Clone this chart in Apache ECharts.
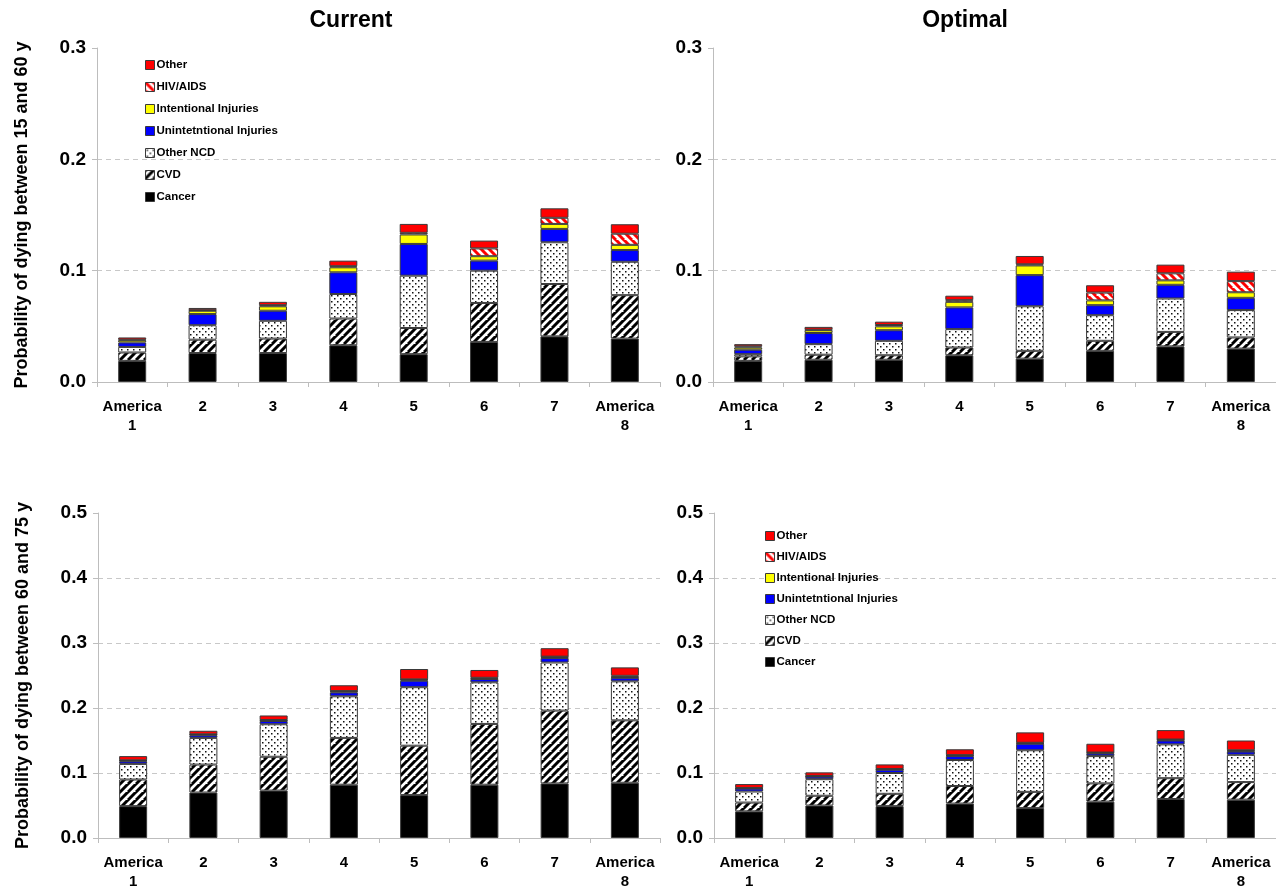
<!DOCTYPE html>
<html>
<head>
<meta charset="utf-8">
<script src="https://cdn.jsdelivr.net/npm/echarts@6/dist/echarts.min.js"></script>
<style>
  html, body { margin: 0; padding: 0; background: #fff; }
  #chart { width: 1276px; height: 891px; }
</style>
</head>
<body>
<div id="chart"></div>
<script>
// categories and causes
var categories = ['America\n1', '2', '3', '4', '5', '6', '7', 'America\n8'];
var causes = ['Cancer', 'CVD', 'Other NCD', 'Unintetntional Injuries', 'Intentional Injuries', 'HIV/AIDS', 'Other'];

// Current, dying between 15 and 60
var cur15Cancer = [0.019, 0.026, 0.026, 0.033, 0.025, 0.036, 0.041, 0.039];
var cur15Cvd    = [0.0075, 0.012, 0.013, 0.024, 0.0235, 0.035, 0.047, 0.039];
var cur15Ncd    = [0.005, 0.013, 0.016, 0.022, 0.047, 0.029, 0.0375, 0.030];
var cur15Unint  = [0.004, 0.010, 0.009, 0.0195, 0.0285, 0.009, 0.012, 0.0105];
var cur15Int    = [0.002, 0.003, 0.004, 0.0045, 0.0085, 0.004, 0.0045, 0.0047];
var cur15Hiv    = [0.0005, 0.0005, 0.001, 0.001, 0.0015, 0.007, 0.0055, 0.010];
var cur15Other  = [0.002, 0.002, 0.003, 0.005, 0.008, 0.007, 0.0085, 0.0085];

// Optimal, dying between 15 and 60
var opt15Cancer = [0.019, 0.020, 0.020, 0.024, 0.021, 0.028, 0.032, 0.030];
var opt15Cvd    = [0.004, 0.0045, 0.004, 0.007, 0.007, 0.009, 0.013, 0.010];
var opt15Ncd    = [0.002, 0.0095, 0.013, 0.0165, 0.040, 0.023, 0.030, 0.0246];
var opt15Unint  = [0.004, 0.010, 0.0095, 0.0195, 0.028, 0.009, 0.0123, 0.011];
var opt15Int    = [0.002, 0.0025, 0.0035, 0.005, 0.0087, 0.0043, 0.004, 0.005];
var opt15Hiv    = [0.001, 0.0005, 0.0012, 0.0015, 0.001, 0.007, 0.0063, 0.010];
var opt15Other  = [0.002, 0.0025, 0.003, 0.004, 0.0075, 0.0066, 0.0078, 0.0085];

// Current, dying between 60 and 75
var cur60Cancer = [0.049, 0.070, 0.073, 0.082, 0.066, 0.082, 0.084, 0.085];
var cur60Cvd    = [0.041, 0.043, 0.052, 0.072, 0.076, 0.0935, 0.112, 0.096];
var cur60Ncd    = [0.024, 0.041, 0.050, 0.064, 0.090, 0.064, 0.074, 0.060];
var cur60Unint  = [0.004, 0.004, 0.005, 0.006, 0.010, 0.005, 0.007, 0.0055];
var cur60Int    = [0.001, 0.001, 0.001, 0.0015, 0.0015, 0.001, 0.0015, 0.001];
var cur60Hiv    = [0.0005, 0.0005, 0.0005, 0.0005, 0.0005, 0.001, 0.0005, 0.002];
var cur60Other  = [0.0065, 0.0055, 0.007, 0.009, 0.016, 0.012, 0.013, 0.013];

// Optimal, dying between 60 and 75
var opt60Cancer = [0.041, 0.050, 0.049, 0.053, 0.046, 0.056, 0.060, 0.059];
var opt60Cvd    = [0.0135, 0.015, 0.019, 0.027, 0.025, 0.028, 0.032, 0.027];
var opt60Ncd    = [0.017, 0.0255, 0.032, 0.040, 0.064, 0.042, 0.052, 0.042];
var opt60Unint  = [0.0045, 0.004, 0.005, 0.006, 0.010, 0.004, 0.006, 0.005];
var opt60Int    = [0.0005, 0.0005, 0.0007, 0.001, 0.001, 0.001, 0.001, 0.001];
var opt60Hiv    = [0.0005, 0.0005, 0.0005, 0.0005, 0.0005, 0.0005, 0.0005, 0.001];
var opt60Other  = [0.006, 0.0055, 0.007, 0.009, 0.016, 0.0135, 0.0145, 0.015];

var panels = [
  { stack: 'tl', data: [cur15Cancer, cur15Cvd, cur15Ncd, cur15Unint, cur15Int, cur15Hiv, cur15Other] },
  { stack: 'tr', data: [opt15Cancer, opt15Cvd, opt15Ncd, opt15Unint, opt15Int, opt15Hiv, opt15Other] },
  { stack: 'bl', data: [cur60Cancer, cur60Cvd, cur60Ncd, cur60Unint, cur60Int, cur60Hiv, cur60Other] },
  { stack: 'br', data: [opt60Cancer, opt60Cvd, opt60Ncd, opt60Unint, opt60Int, opt60Hiv, opt60Other] }
];

var narrow = "'Liberation Sans Narrow', 'Arial Narrow', 'Liberation Sans', Arial, sans-serif";
var sans = "'Liberation Sans', Arial, sans-serif";

function makeStripes(color, dir) {
  var c = document.createElement('canvas');
  c.width = 8; c.height = 8;
  var g = c.getContext('2d');
  g.fillStyle = '#fff';
  g.fillRect(0, 0, 8, 8);
  g.strokeStyle = color;
  g.lineWidth = 3;
  g.beginPath();
  for (var k = -8; k <= 16; k += 8) {
    if (dir === '/') {
      g.moveTo(k - 8, 8); g.lineTo(k + 8, -8);
    } else {
      g.moveTo(k - 8, -8); g.lineTo(k + 8, 8);
    }
  }
  g.stroke();
  return { image: c, repeat: 'repeat' };
}

function makeDots() {
  var c = document.createElement('canvas');
  c.width = 6; c.height = 6;
  var g = c.getContext('2d');
  g.fillStyle = '#fff';
  g.fillRect(0, 0, 6, 6);
  g.fillStyle = '#111';
  g.fillRect(1, 1, 1.5, 1.5);
  g.fillRect(4, 4, 1.5, 1.5);
  return { image: c, repeat: 'repeat' };
}

var fills = ['#000000', makeStripes('#000', '/'), makeDots(), '#0000ff', '#ffff00', makeStripes('#ff0000', '\\'), '#ff0000'];

var grids = [
  { left: 97, width: 563, top: 48, height: 334 },
  { left: 713, width: 563, top: 48, height: 334 },
  { left: 98, width: 562, top: 513, height: 326 },
  { left: 714, width: 562, top: 513, height: 326 }
];

var xAxes = grids.map(function (g, i) {
  return {
    type: 'category',
    gridIndex: i,
    data: categories,
    axisLine: { lineStyle: { color: '#bdbdbd', width: 1 } },
    axisTick: { show: true, length: 5, lineStyle: { color: '#bdbdbd' } },
    axisLabel: {
      interval: 0,
      margin: 15,
      color: '#000',
      fontFamily: sans,
      fontWeight: 'bold',
      fontSize: 15,
      lineHeight: 19
    }
  };
});

var yNames = ['Probability of dying between 15 and 60 y', '', 'Probability of dying between 60 and 75 y', ''];
var yAxes = grids.map(function (g, i) {
  var top = i < 2;
  return {
    type: 'value',
    gridIndex: i,
    min: 0,
    max: top ? 0.3 : 0.5,
    interval: 0.1,
    name: yNames[i],
    nameLocation: 'middle',
    nameRotate: 90,
    nameGap: 66,
    nameTextStyle: { fontFamily: sans, fontWeight: 'bold', fontSize: 18, color: '#000' },
    axisLine: { show: true, lineStyle: { color: '#bdbdbd', width: 1 } },
    axisTick: { show: true, length: 5, lineStyle: { color: '#bdbdbd' } },
    axisLabel: {
      margin: 11,
      color: '#000',
      fontFamily: narrow,
      fontWeight: 'bold',
      fontSize: 19,
      formatter: function (v) { return v.toFixed(1); }
    },
    splitLine: {
      show: true,
      lineStyle: {
        type: [5, 4],
        width: 1,
        color: top ? ['transparent', '#c8c8c8', '#c8c8c8', 'transparent']
                   : ['transparent', '#c8c8c8', '#c8c8c8', '#c8c8c8', '#c8c8c8', 'transparent']
      }
    }
  };
});

var series = [];
panels.forEach(function (p, pi) {
  causes.forEach(function (name, ci) {
    series.push({
      name: name,
      type: 'bar',
      stack: p.stack,
      xAxisIndex: pi,
      yAxisIndex: pi,
      barWidth: 28,
      itemStyle: { color: fills[ci], borderColor: '#3a3a3a', borderWidth: 1 },
      emphasis: { disabled: true },
      data: p.data[ci]
    });
  });
});

var legendData = causes.slice().reverse();
function legendAt(left, top, gap) {
  return {
    orient: 'vertical',
    left: left,
    top: top,
    itemWidth: 9,
    itemHeight: 9,
    itemGap: gap,
    icon: 'rect',
    selectedMode: false,
    itemStyle: { borderColor: '#3a3a3a', borderWidth: 1 },
    textStyle: { fontFamily: sans, fontWeight: 'bold', fontSize: 11.5, color: '#000', padding: [0, 0, 0, -3] },
    data: legendData
  };
}

var myChart = echarts.init(document.getElementById('chart'), null, { renderer: 'canvas' });
var option = {
  backgroundColor: '#fff',
  animation: false,
  title: [
    { text: 'Current', left: 346, top: 4, textAlign: 'center',
      textStyle: { fontFamily: narrow, fontWeight: 'bold', fontSize: 23, color: '#000' } },
    { text: 'Optimal', left: 960, top: 4, textAlign: 'center',
      textStyle: { fontFamily: narrow, fontWeight: 'bold', fontSize: 23, color: '#000' } }
  ],
  legend: [legendAt(140, 54, 10), legendAt(760, 525, 9)],
  grid: grids,
  xAxis: xAxes,
  yAxis: yAxes,
  series: series
};
myChart.setOption(option, true);
</script>
</body>
</html>
